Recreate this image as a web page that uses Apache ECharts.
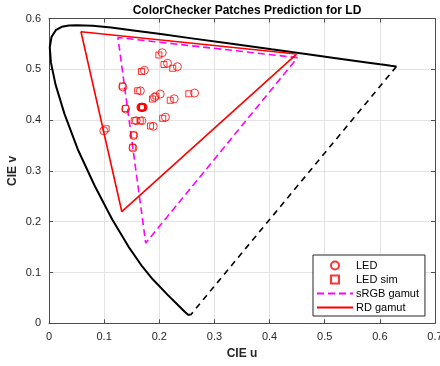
<!DOCTYPE html>
<html><head><meta charset="utf-8">
<script src="https://cdn.jsdelivr.net/npm/echarts@6/dist/echarts.min.js"></script>
<style>html,body{margin:0;padding:0;background:#fff}#c{width:440px;height:366px}</style>
</head><body><div id="c"></div>
<script>
// Spectral locus (CIE 1976 u'v')
const locusU = [0.2568,0.2557,0.2522,0.2461,0.2347,0.2161,0.1877,0.1690,0.1441,0.1147,0.0828,0.0521,0.0282,0.0119,0.0035,0.0014,0.0046,0.0123,0.0231,0.0360,0.0501,0.0792,0.1127,0.1531,0.2026,0.2623,0.3315,0.4035,0.4692,0.5203,0.5565,0.5830,0.6005,0.6109,0.6199,0.6300];
const locusV = [0.0166,0.0159,0.0169,0.0226,0.0350,0.0549,0.0871,0.1119,0.1510,0.2044,0.2708,0.3427,0.4117,0.4698,0.5131,0.5432,0.5638,0.5770,0.5837,0.5861,0.5868,0.5856,0.5821,0.5766,0.5694,0.5604,0.5501,0.5393,0.5296,0.5219,0.5165,0.5125,0.5099,0.5084,0.5070,0.5055];
// Purple line (closing the locus)
const purpleU = [0.6300, 0.2568];
const purpleV = [0.5055, 0.0166];
// sRGB gamut
const srgbU = [0.4507, 0.1250, 0.1754, 0.4507];
const srgbV = [0.5229, 0.5625, 0.1579, 0.5229];
// RD gamut
const rdU = [0.449, 0.058, 0.132, 0.449];
const rdV = [0.530, 0.574, 0.220, 0.530];
// LED measured (circles)
const ledU = [0.2053,0.2149,0.2329,0.1730,0.1339,0.1657,0.1913,0.2017,0.2271,0.2640,0.1390,0.1665,0.1675,0.1684,0.1690,0.1700,0.1708,0.1581,0.1684,0.2111,0.1890,0.0994,0.1535,0.1523];
const ledV = [0.5327,0.5118,0.5051,0.4980,0.4652,0.4577,0.4449,0.4514,0.4419,0.4533,0.4219,0.4250,0.4252,0.4254,0.4250,0.4252,0.4250,0.3988,0.3988,0.4057,0.3878,0.3789,0.3697,0.3451];
// LED simulated (squares)
const simU = [0.1993,0.2086,0.2244,0.1677,0.1330,0.1608,0.1877,0.1939,0.2198,0.2535,0.1386,0.1675,0.1680,0.1684,0.1688,0.1692,0.1696,0.1545,0.1654,0.2062,0.1840,0.1036,0.1535,0.1517];
const simV = [0.5282,0.5094,0.5020,0.4957,0.4671,0.4577,0.4415,0.4474,0.4390,0.4518,0.4228,0.4252,0.4252,0.4252,0.4252,0.4252,0.4252,0.3988,0.3988,0.4035,0.3884,0.3829,0.3707,0.3467];
const xTicks = ['0','0.1','0.2','0.3','0.4','0.5','0.6','0.7'];
const yTicks = ['0','0.1','0.2','0.3','0.4','0.5','0.6'];

const zip = (a, b) => a.map((v, i) => [v, b[i]]);
const FONT = 'Liberation Sans, Arial, Helvetica, sans-serif';
const axisCol = '#4d4d4d';
const chart = echarts.init(document.getElementById('c'), null, {renderer: 'canvas'});

const baseX = {
  type: 'value', min: 0, max: 0.7, interval: 0.1,
  axisLine: {show: true, onZero: false, lineStyle: {color: axisCol, width: 1}},
  axisTick: {show: true, inside: true, length: 4, lineStyle: {color: axisCol}},
};
const baseY = {
  type: 'value', min: 0, max: 0.6, interval: 0.1,
  axisLine: {show: true, onZero: false, lineStyle: {color: axisCol, width: 1}},
  axisTick: {show: true, inside: true, length: 4, lineStyle: {color: axisCol}},
};

chart.setOption({
  animation: false,
  backgroundColor: '#fff',
  title: {
    text: 'ColorChecker Patches Prediction for LD',
    left: 242, top: 0, textAlign: 'center',
    textStyle: {fontFamily: FONT, fontSize: 12, fontWeight: 'bold', color: '#000'}
  },
  grid: {left: 49, right: 5, top: 18.5, bottom: 42.7, containLabel: false, outerBoundsMode: 'none'},
  xAxis: [
    Object.assign({}, baseX, {
      position: 'bottom',
      name: 'CIE u', nameLocation: 'middle', nameGap: 24, nameMoveOverlap: false,
      nameTextStyle: {fontFamily: FONT, fontSize: 12, fontWeight: 'bold', color: '#262626'},
      axisLabel: {fontFamily: FONT, fontSize: 11, color: '#262626', margin: 8,
        formatter: (v) => xTicks[Math.round(v * 10)]},
      splitLine: {show: true, lineStyle: {color: '#e3e3e3', width: 1}}
    }),
    Object.assign({}, baseX, {position: 'top', axisLabel: {show: false}, splitLine: {show: false}})
  ],
  yAxis: [
    Object.assign({}, baseY, {
      position: 'left',
      name: 'CIE v', nameLocation: 'middle', nameGap: 30, nameMoveOverlap: false,
      nameTextStyle: {fontFamily: FONT, fontSize: 12, fontWeight: 'bold', color: '#262626'},
      axisLabel: {fontFamily: FONT, fontSize: 11, color: '#262626', margin: 8,
        formatter: (v) => yTicks[Math.round(v * 10)]},
      splitLine: {show: true, lineStyle: {color: '#e3e3e3', width: 1}}
    }),
    Object.assign({}, baseY, {position: 'right', axisLabel: {show: false}, splitLine: {show: false}})
  ],
  legend: {
    orient: 'vertical', left: 313, top: 255,
    padding: [5, 6, 3, 3], itemGap: 3,
    itemWidth: 36, itemHeight: 8,
    backgroundColor: '#fff', borderColor: '#262626', borderWidth: 1,
    textStyle: {fontFamily: FONT, fontSize: 11, color: '#000', padding: [0, 0, 0, -2]},
    data: [
      {name: 'LED', icon: 'circle'},
      {name: 'LED sim', icon: 'path://M0,0H10V10H0Z'},
      {name: 'sRGB gamut', itemStyle: {opacity: 0}},
      {name: 'RD gamut', itemStyle: {opacity: 0}}
    ]
  },
  series: [
    {name: 'locus', type: 'line', data: zip(locusU, locusV), symbol: 'none', silent: true,
      lineStyle: {color: '#000', width: 2}, z: 2},
    {name: 'purple', type: 'line', data: zip(purpleU, purpleV), symbol: 'none', silent: true,
      lineStyle: {color: '#000', width: 1.6, type: [6, 5]}, z: 2},
    {name: 'sRGB gamut', type: 'line', data: zip(srgbU, srgbV), symbol: 'none',
      color: '#ff00ff', lineStyle: {color: '#ff00ff', width: 1.6, type: [7, 4]}, z: 3},
    {name: 'RD gamut', type: 'line', data: zip(rdU, rdV), symbol: 'none',
      color: '#ff0000', lineStyle: {color: '#ff0000', width: 1.6}, z: 3},
    {name: 'LED', type: 'scatter', data: zip(ledU, ledV), symbol: 'circle', symbolSize: 8,
      itemStyle: {color: 'rgba(255,255,255,0)', borderColor: '#ff0000', borderWidth: 1}, z: 4},
    {name: 'LED sim', type: 'scatter', data: zip(simU, simV), symbol: 'rect', symbolSize: 6,
      itemStyle: {color: 'rgba(255,255,255,0)', borderColor: '#ff0000', borderWidth: 1}, z: 4}
  ]
});
</script></body></html>
